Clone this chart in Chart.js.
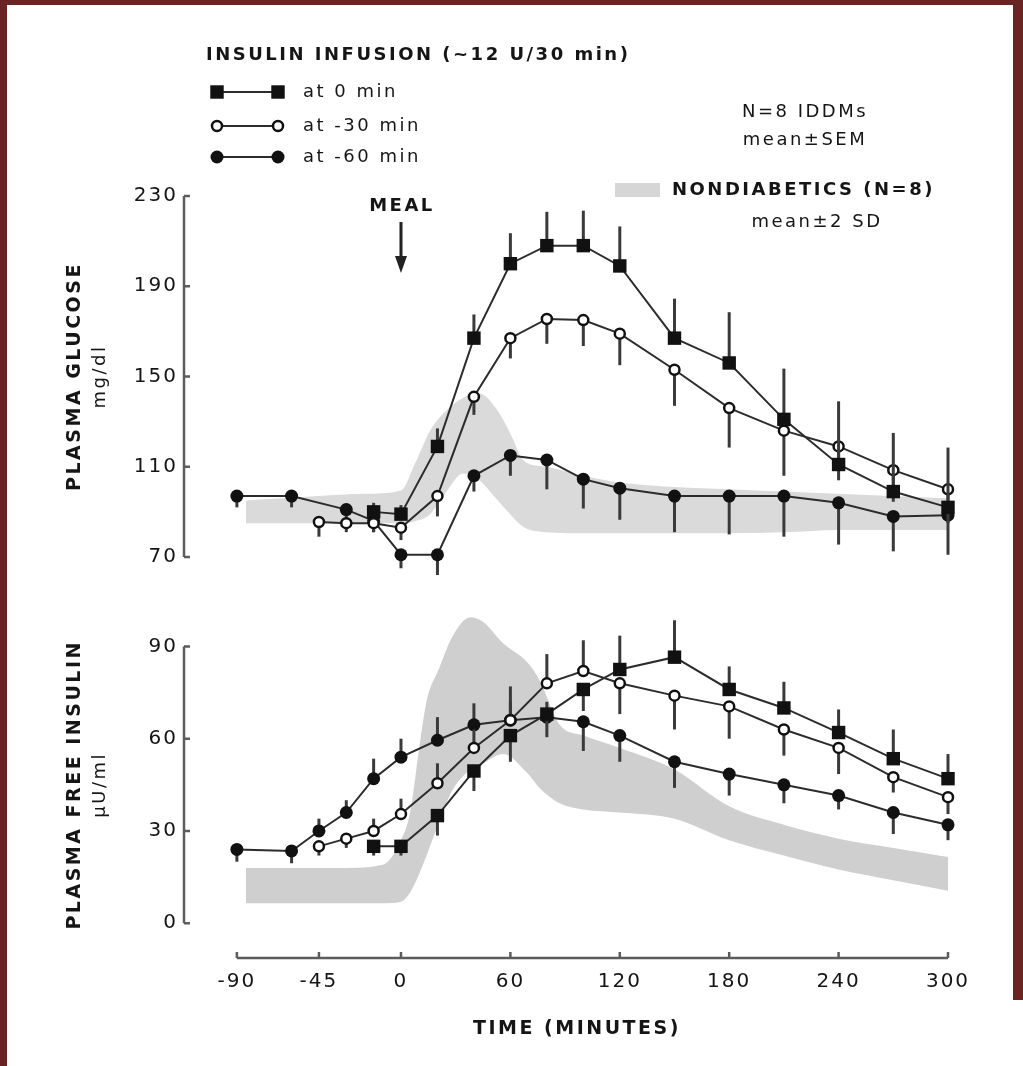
<!DOCTYPE html>
<html>
<head>
<meta charset="utf-8">
<script src="https://cdn.jsdelivr.net/npm/chart.js@4.4.1/dist/chart.umd.min.js"></script>
<style>
  html, body { margin: 0; padding: 0; background: #fff; }
  body { width: 1023px; height: 1066px; position: relative; overflow: hidden; }
  .edge { position: absolute; background: #6b2424; }
  canvas { position: absolute; left: 0; }
  #glucose { top: 0; }
  #insulin { top: 600px; }
</style>
</head>
<body>
<div class="edge" style="left:0;top:0;width:1023px;height:5px"></div>
<div class="edge" style="left:0;top:0;width:7px;height:1066px"></div>
<div class="edge" style="left:1013px;top:0;width:10px;height:1000px"></div>
<canvas id="glucose" width="1023" height="600"></canvas>
<canvas id="insulin" width="1023" height="466"></canvas>
<script>
//
// Data (minutes after meal)
//

var xTicks = [-90, -45, 0, 60, 120, 180, 240, 300];
var gluTicks = [70, 110, 150, 190, 230];
var insTicks = [0, 30, 60, 90];

var tSq = [-15, 0, 20, 40, 60, 80, 100, 120, 150, 180, 210, 240, 270, 300];
var tOpen = [-45, -30, -15, 0, 20, 40, 60, 80, 100, 120, 150, 180, 210, 240, 270, 300];
var tDotGlu = [-90, -60, -30, -15, 0, 20, 40, 60, 80, 100, 120, 150, 180, 210, 240, 270, 300];
var tDotIns = [-90, -60, -45, -30, -15, 0, 20, 40, 60, 80, 100, 120, 150, 180, 210, 240, 270, 300];

// plasma glucose, mg/dl
var gluSq = [90, 89, 119, 167, 200, 208, 208, 199, 167, 156, 131, 111, 99, 92];
var gluOpen = [85.5, 85, 85, 83, 97, 141, 167, 175.5, 175, 169, 153, 136, 126, 119, 108.5, 100];
var gluDot = [97, 97, 91, 86, 71, 71, 106, 115, 113, 104.5, 100.5, 97, 97, 97, 94, 88, 88.5];

// SEM (+ drawn above the point, - below)
var gluSqErr = [4, 4, 8, 10.5, 13.5, 15, 15.5, 17.5, 17.5, 22.5, 22.5, 28, 26, 26.5];
var gluOpenErr = [-6.5, -4, -4, -5.5, -9, -8, -9, -11, -11.5, -14, -16, -17.5, -20, -15, -14, -15];
var gluDotErr = [-5, -5, -5, -5, -6, -9, -7, -9, -13, -13, -14, -16, -17, -18, -18.5, -15.5, -17.5];

// plasma free insulin, uU/ml
var insSq = [25, 25, 35, 49.5, 61, 68, 76, 82.5, 86.5, 76, 70, 62, 53.5, 47];
var insOpen = [25, 27.5, 30, 35.5, 45.5, 57, 66, 78, 82, 78, 74, 70.5, 63, 57, 47.5, 41];
var insDot = [24, 23.5, 30, 36, 47, 54, 59.5, 64.5, 66, 67, 65.5, 61, 52.5, 48.5, 45, 41.5, 36, 32];

var insSqErr = [-3, -3, -6.5, -6.5, -8.5, -7.5, -7, 11, 12, 7.5, 8.5, 7.5, 9.5, 8];
var insOpenErr = [-3, -3, 4, 5, 6.5, 6, 6, 9.5, 10, -10, -11, -10.5, -8.5, -8.5, -5, -5.5];
var insDotErr = [-4, -4, 4, 4, 6.5, 6, 7.5, 7, 11, 5, -9.5, -8.5, -8.5, -7, -6, -4.5, -7, -5];

// nondiabetics, mean +/- 2 SD
var gluBandT = [-85, -45, -20, 0, 8, 16, 25, 34, 43, 52, 61, 66, 71, 80, 100, 120, 150, 180, 210, 240, 270, 300];
var gluBandHi = [95, 97, 98, 99.5, 112, 126, 135, 140.5, 142.5, 136, 123, 114, 111, 110, 106, 103, 101, 100, 99, 98, 97, 96];
var gluBandLo = [85, 85, 85, 85, 86, 89, 99, 107, 104, 96, 88, 84, 82, 81, 80.5, 80.5, 80.5, 80.5, 81, 82, 82, 82];

var insBandT = [-85, -60, -30, -10, 0, 5, 10, 14, 21, 28, 38, 45, 56, 69, 76, 87, 100, 120, 150, 180, 210, 240, 270, 300];
var insBandHi = [18, 18, 18, 19, 27, 36, 57, 72, 83, 93, 99.5, 98, 91, 85, 79, 64.5, 61, 57, 50, 38, 32, 27.5, 24.5, 21.5];
var insBandLo = [6.5, 6.5, 6.5, 6.5, 7, 10, 16, 22, 33, 43, 50, 52, 55, 49, 44, 39, 37, 36, 34, 27, 22, 17.5, 14, 10.6];

var labels = ['at 0 min', 'at -30 min', 'at -60 min'];
var mealTime = 0;


//
// Styles
//

var FONT = '"DejaVu Sans", sans-serif';
var INK = '#151515';

var markSq = { pointStyle: 'rect', radius: 9.5, fill: '#111', border: '#111', borderWidth: 0 };
var markOpen = { pointStyle: 'circle', radius: 5, fill: '#fff', border: '#111', borderWidth: 2.5 };
var markDot = { pointStyle: 'circle', radius: 6.5, fill: '#111', border: '#111', borderWidth: 0 };


//
// Helpers
//

function pts(t, v) {
	return t.map(function(x, i) { return { x: x, y: v[i] }; });
}

function series(label, t, v, err, mark) {
	return {
		label: label,
		data: pts(t, v),
		errors: err,
		mark: mark,
		order: 1,
		clip: false,
		borderColor: '#2c2c2c',
		borderWidth: 2,
		tension: 0,
		pointStyle: mark.pointStyle,
		pointRadius: mark.radius,
		pointBackgroundColor: mark.fill,
		pointBorderColor: mark.border,
		pointBorderWidth: mark.borderWidth
	};
}

function band(t, hi, lo, color) {
	var common = { order: 10, pointRadius: 0, borderWidth: 0, cubicInterpolationMode: 'monotone', clip: false };
	return [
		Object.assign({ data: pts(t, hi), fill: false }, common),
		Object.assign({ data: pts(t, lo), fill: '-1', backgroundColor: color }, common)
	];
}

function fixedTicks(values) {
	return function(scale) {
		scale.ticks = values.map(function(v) { return { value: v }; });
	};
}


//
// Plugins
//

var spacing = {
	id: 'spacing',
	beforeDraw: function(chart) { chart.ctx.letterSpacing = '2px'; }
};

var semBars = {
	id: 'semBars',
	beforeDatasetDraw: function(chart, args) {
		var ds = chart.data.datasets[args.index];
		if (!ds.errors) return;
		var ctx = chart.ctx, ys = chart.scales.y;
		ctx.save();
		ctx.strokeStyle = '#3a3a3a';
		ctx.lineWidth = 3;
		args.meta.data.forEach(function(pt, i) {
			var e = ds.errors[i];
			if (!e) return;
			ctx.beginPath();
			ctx.moveTo(pt.x, pt.y);
			ctx.lineTo(pt.x, ys.getPixelForValue(ds.data[i].y + e));
			ctx.stroke();
		});
		ctx.restore();
	}
};

var axisLines = {
	id: 'axisLines',
	afterDraw: function(chart) {
		var ctx = chart.ctx, ys = chart.scales.y, xs = chart.scales.x, area = chart.chartArea;
		ctx.save();
		ctx.strokeStyle = '#5c5c5c';
		ctx.lineWidth = 2.5;
		ctx.beginPath();
		var yp = ys.ticks.map(function(t) { return ys.getPixelForValue(t.value); });
		ctx.moveTo(area.left, Math.min.apply(null, yp));
		ctx.lineTo(area.left, Math.max.apply(null, yp));
		yp.forEach(function(p) { ctx.moveTo(area.left, p); ctx.lineTo(area.left + 6, p); });
		if (xs.options.display) {
			var xp = xs.ticks.map(function(t) { return xs.getPixelForValue(t.value); });
			ctx.moveTo(Math.min.apply(null, xp), area.bottom);
			ctx.lineTo(Math.max.apply(null, xp), area.bottom);
			xp.forEach(function(p) { ctx.moveTo(p, area.bottom); ctx.lineTo(p, area.bottom - 6); });
		}
		ctx.stroke();
		ctx.restore();
	}
};

function text(ctx, s, x, y, font, align) {
	ctx.font = font;
	ctx.textAlign = align || 'left';
	ctx.fillText(s, x, y);
}

function yTitle(chart, lines, mid) {
	var ctx = chart.ctx, y = chart.scales.y.getPixelForValue(mid);
	ctx.save();
	ctx.fillStyle = INK;
	ctx.textBaseline = 'middle';
	ctx.letterSpacing = '2.5px';
	[[lines[0], 75, 'bold 19px ' + FONT], [lines[1], 100, '18px ' + FONT]].forEach(function(l) {
		ctx.save();
		ctx.translate(l[1], y);
		ctx.rotate(-Math.PI / 2);
		text(ctx, l[0], 0, 0, l[2], 'center');
		ctx.restore();
	});
	ctx.restore();
}

var gluNotes = {
	id: 'gluNotes',
	afterDraw: function(chart) {
		var ctx = chart.ctx;
		ctx.save();
		ctx.fillStyle = INK;
		ctx.textBaseline = 'middle';
		ctx.letterSpacing = '2.5px';
		text(ctx, 'INSULIN INFUSION (~12 U/30 min)', 206, 55, 'bold 18px ' + FONT);

		// legend
		var rows = [92, 126, 157];
		chart.data.datasets.filter(function(d) { return d.mark; }).forEach(function(d, i) {
			var y = rows[i];
			ctx.strokeStyle = '#2c2c2c';
			ctx.lineWidth = 2;
			ctx.beginPath();
			ctx.moveTo(217, y);
			ctx.lineTo(278, y);
			ctx.stroke();
			[217, 278].forEach(function(x) {
				ctx.fillStyle = d.mark.fill;
				ctx.strokeStyle = d.mark.border;
				ctx.lineWidth = d.mark.borderWidth;
				Chart.helpers.drawPoint(ctx, d.mark, x, y);
			});
			ctx.fillStyle = INK;
			text(ctx, d.label, 303, y, '18px ' + FONT);
		});

		text(ctx, 'N=8 IDDMs', 805, 112, '18px ' + FONT, 'center');
		text(ctx, 'mean\u00b1SEM', 805, 140, '18px ' + FONT, 'center');
		ctx.fillStyle = '#d6d6d6';
		ctx.fillRect(615, 183, 45, 14);
		ctx.fillStyle = INK;
		text(ctx, 'NONDIABETICS (N=8)', 672, 190, 'bold 18px ' + FONT);
		text(ctx, 'mean\u00b12 SD', 817, 222, '18px ' + FONT, 'center');

		// meal marker
		var mx = chart.scales.x.getPixelForValue(mealTime);
		text(ctx, 'MEAL', mx + 1, 206, 'bold 18px ' + FONT, 'center');
		ctx.strokeStyle = '#222';
		ctx.lineWidth = 3;
		ctx.beginPath();
		ctx.moveTo(mx, 222);
		ctx.lineTo(mx, 262);
		ctx.stroke();
		ctx.fillStyle = '#222';
		ctx.beginPath();
		ctx.moveTo(mx - 6, 256);
		ctx.lineTo(mx + 6, 256);
		ctx.lineTo(mx, 273);
		ctx.closePath();
		ctx.fill();
		ctx.restore();

		yTitle(chart, ['PLASMA GLUCOSE', 'mg/dl'], 150);
	}
};

var insNotes = {
	id: 'insNotes',
	afterDraw: function(chart) {
		var ctx = chart.ctx;
		ctx.save();
		ctx.fillStyle = INK;
		ctx.textBaseline = 'middle';
		ctx.letterSpacing = '2.5px';
		text(ctx, 'TIME (MINUTES)', 577, 429, 'bold 19px ' + FONT, 'center');
		ctx.restore();
		yTitle(chart, ['PLASMA FREE INSULIN', '\u00b5U/ml'], 45);
	}
};


//
// Charts
//

function panel(canvas, datasets, yMin, yMax, yTicks, showX, padding, xHeight, notes) {
	return new Chart(canvas, {
		type: 'line',
		data: { datasets: datasets },
		plugins: [spacing, semBars, axisLines, notes],
		options: {
			responsive: false,
			animation: false,
			layout: { padding: padding },
			plugins: { legend: { display: false }, tooltip: { enabled: false } },
			scales: {
				x: {
					type: 'linear',
					min: -119,
					max: 300,
					display: showX,
					afterBuildTicks: fixedTicks(xTicks),
					afterFit: function(s) { s.height = xHeight; },
					grid: { display: false, drawTicks: false },
					border: { display: false },
					ticks: { autoSkip: false, maxRotation: 0, padding: 12, color: INK, font: { family: FONT, size: 20 } }
				},
				y: {
					min: yMin,
					max: yMax,
					afterBuildTicks: fixedTicks(yTicks),
					afterFit: function(s) {
						s.width = 184;
						s.paddingTop = 0;
						s.paddingBottom = 0;
					},
					grid: { display: false, drawTicks: false },
					border: { display: false },
					ticks: { autoSkip: false, padding: 6, color: INK, font: { family: FONT, size: 20 } }
				}
			}
		}
	});
}

var gluChart = panel(
	document.getElementById('glucose'),
	band(gluBandT, gluBandHi, gluBandLo, '#dadada').concat([
		series(labels[0], tSq, gluSq, gluSqErr, markSq),
		series(labels[1], tOpen, gluOpen, gluOpenErr, markOpen),
		series(labels[2], tDotGlu, gluDot, gluDotErr, markDot)
	]),
	70, 230, gluTicks, false,
	{ left: 0, right: 75, top: 196, bottom: 43 }, 0, gluNotes
);

// y range reaches past 90 so the band peak is not clipped
var insChart = panel(
	document.getElementById('insulin'),
	band(insBandT, insBandHi, insBandLo, '#cfcfcf').concat([
		series(labels[0], tSq, insSq, insSqErr, markSq),
		series(labels[1], tOpen, insOpen, insOpenErr, markOpen),
		series(labels[2], tDotIns, insDot, insDotErr, markDot)
	]),
	-11.3, 102, insTicks, true,
	{ left: 0, right: 75, top: 6.8, bottom: 0 }, 108, insNotes
);
</script>
</body>
</html>
